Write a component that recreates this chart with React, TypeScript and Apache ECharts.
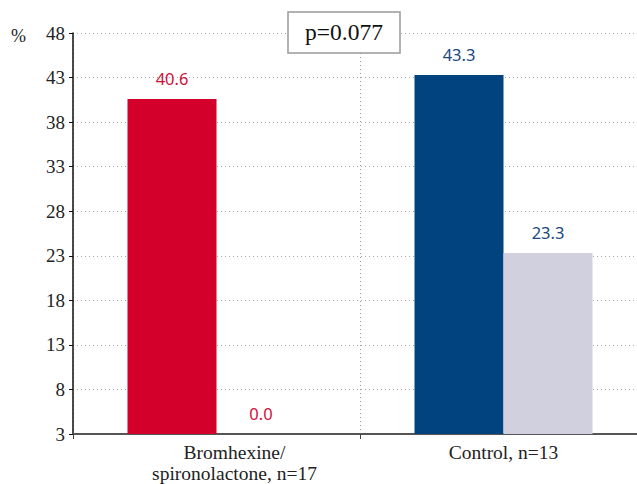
import React, { useEffect, useRef } from "react";
import * as echarts from "echarts";

const categories = ["Bromhexine/\nspironolactone, n=17", "Control, n=13"];
const seriesA = [40.6, 43.3];
const seriesB = [0.0, 23.3];
const yTicks = { min: 3, max: 48, step: 5 };
const pValueText = "p=0.077";
const unitText = "%";

const RED = "#d2002b";
const BLUE = "#00437f";
const GRAY = "#d0d0de";
const LABEL_COLORS = ["#d0103a", "#1a4a80"];
const SERIF = "Liberation Serif";
const SANS = "Noto Sans";

export default function App() {
  const ref = useRef<HTMLDivElement>(null);
  useEffect(() => {
    if (!ref.current) return;
    const chart = echarts.init(ref.current, undefined, { renderer: "svg" });
    const fmt = (arr: number[]) => (p: any) => arr[p.dataIndex].toFixed(1);
    const clampV = (v: number) => Math.max(v, yTicks.min);
    chart.setOption({
      animation: false,
      backgroundColor: "#fff",
      title: [
        {
          text: unitText,
          left: 6,
          top: 22,
          textStyle: { fontFamily: SERIF, fontSize: 18, fontWeight: "normal", color: "#222" },
        },
        {
          text: pValueText,
          left: 288,
          top: 12,
          padding: [8, 17, 9, 17],
          borderColor: "#999",
          borderWidth: 1.5,
          backgroundColor: "#fff",
          textStyle: { fontFamily: SERIF, fontSize: 23.5, fontWeight: "normal", color: "#111" },
        },
      ],
      grid: { left: 73, right: 13, top: 33, bottom: 49, containLabel: false },
      xAxis: {
        type: "category",
        data: categories,
        axisLine: { lineStyle: { color: "#555", width: 2 } },
        axisTick: { show: true, length: 5, lineStyle: { color: "#444", width: 1 } },
        splitLine: { show: true, lineStyle: { color: "#999", type: [1, 3], width: 1 } },
        axisLabel: {
          fontFamily: SERIF,
          fontSize: 19.5,
          color: "#222",
          lineHeight: 21,
          margin: 8,
          formatter: (value: string, index: number) =>
            index === 0
              ? value
                  .split("\n")
                  .map((l) => `{s|${l}}`)
                  .join("\n")
              : value,
          rich: {
            s: {
              fontFamily: SERIF,
              fontSize: 19.5,
              color: "#222",
              lineHeight: 21,
              padding: [0, 0, 0, 36],
            },
          },
        },
      },
      yAxis: {
        type: "value",
        min: yTicks.min,
        max: yTicks.max,
        interval: yTicks.step,
        axisLine: { show: true, lineStyle: { color: "#111", width: 1.5 } },
        axisTick: { show: true, length: 4, lineStyle: { color: "#111" } },
        axisLabel: { fontFamily: SERIF, fontSize: 19, color: "#222", margin: 8 },
        splitLine: { show: true, lineStyle: { color: "#aaa", type: [1, 3], width: 1 } },
      },
      series: [
        {
          type: "bar",
          barWidth: 89,
          barGap: "0%",
          data: seriesA.map((v, i) => ({
            value: clampV(v),
            itemStyle: { color: i === 0 ? RED : BLUE },
            label: { color: LABEL_COLORS[i] },
          })),
          label: {
            show: true,
            position: "top",
            distance: 12,
            fontFamily: SANS,
            fontSize: 16.5,
            formatter: fmt(seriesA),
          },
        },
        {
          type: "bar",
          barWidth: 89,
          barGap: "0%",
          data: seriesB.map((v, i) => ({
            value: clampV(v),
            itemStyle: { color: GRAY },
            label: { color: LABEL_COLORS[i] },
          })),
          label: {
            show: true,
            position: "top",
            distance: 12,
            fontFamily: SANS,
            fontSize: 16.5,
            formatter: fmt(seriesB),
          },
        },
      ],
    });
    return () => chart.dispose();
  }, []);
  return (
    <div
      style={{ position: "fixed", left: 0, top: 0, width: 637, height: 484, overflow: "hidden" }}
    >
      <div ref={ref} style={{ width: 660, height: 484 }} />
    </div>
  );
}
